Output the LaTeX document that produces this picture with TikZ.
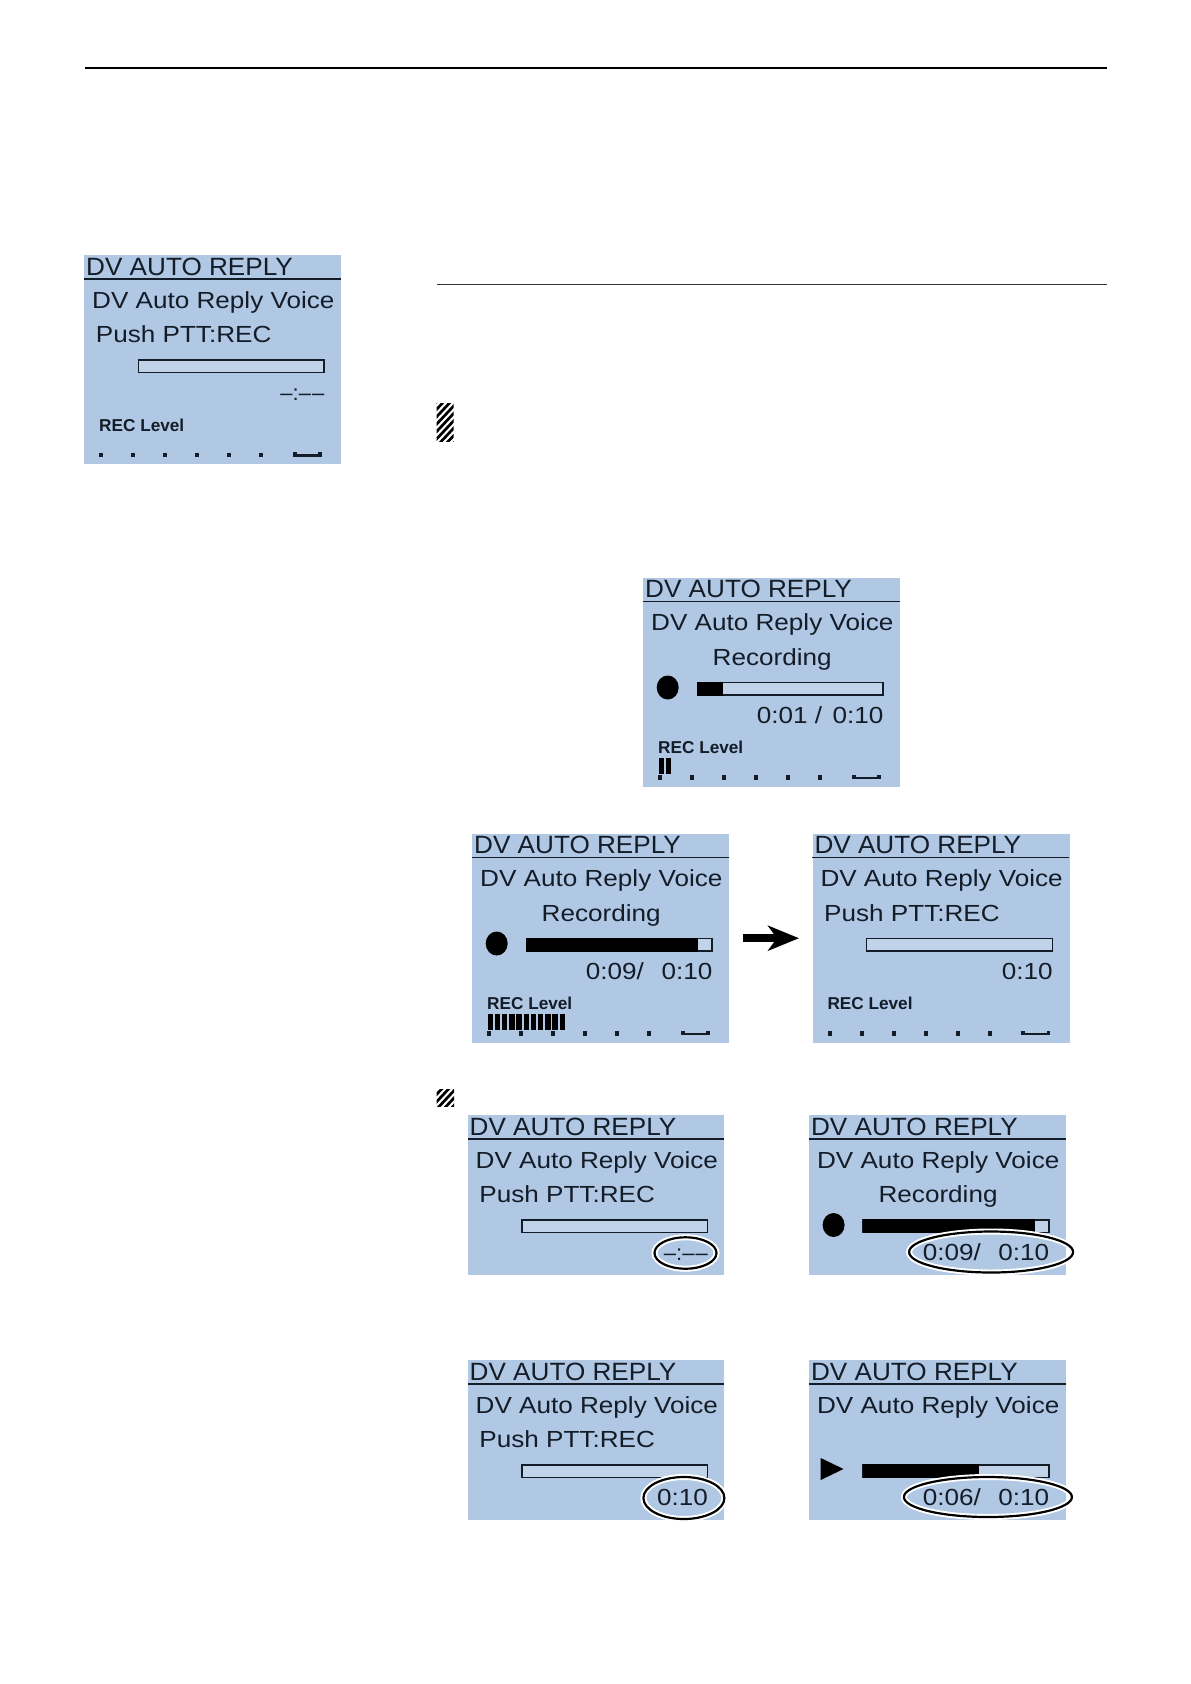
\documentclass[tikz,border=0pt]{standalone}
\usepackage{fontspec}
\setmainfont{Liberation Sans}
\newfontfamily\lcdfont[FakeStretch=1.12]{Liberation Sans}
\newfontfamily\lcdhead[FakeStretch=1.045]{Liberation Sans}
\usetikzlibrary{arrows.meta}
\definecolor{lcdbg}{HTML}{B0C8E4}
\definecolor{lcdink}{HTML}{141C28}
\tikzset{
  panel/.style={fill=lcdbg,draw=none,inner sep=0pt,anchor=north west},
  lcdtxt/.style={inner sep=0pt,text=lcdink,font=\lcdfont\fontsize{23.3}{25}\selectfont},
  dashtxt/.style={inner sep=0pt,text=lcdink,anchor=base east,font=\fontsize{22}{25}\selectfont},
  headtxt/.style={inner sep=0pt,text=lcdink,anchor=base west,font=\lcdhead\fontsize{25}{27}\selectfont},
  smalltxt/.style={inner sep=0pt,text=lcdink,anchor=base west,font=\fontsize{17.2}{18}\selectfont\bfseries},
  lcdrule/.style={draw=lcdink,line width=1.6pt},
  barframe/.style={draw=lcdink,line width=1.6pt,fill=lcdbg!80!white},
  inkfill/.style={fill=black,draw=none},
  pagerule/.style={draw=black,line width=1.4pt},
  thinrule/.style={draw=black!80,line width=0.9pt},
  bigarrow/.style={draw=black,line width=7.5pt,-{Stealth[length=31pt,width=25pt,inset=9pt]}},
  haloring/.style={draw=white,line width=6pt},
  blackring/.style={draw=black,line width=2.2pt},
  hatchline/.style={draw=black,line width=2.7pt}
}
\newcommand{\lcdtop}[3]{%
  \node[panel,minimum width=#3pt,minimum height=#2pt] (#1) at (0,0) {};
  \node[headtxt] (#1-title) at (2,20) {DV AUTO REPLY};
  \draw[lcdrule] (0,24) -- (#3,24);
  \node[lcdtxt,anchor=base west] (#1-l1) at (8,53) {DV Auto Reply Voice};
}
\newcommand{\lcdpush}[1]{\node[lcdtxt,anchor=base west] (#1-l2) at (11.7,87.5) {Push PTT:REC};}
\newcommand{\lcdrecording}[1]{%
  \node[lcdtxt,anchor=base west] (#1-l2) at (69.5,87.5) {Recording};
  \fill[black] (24.7,110) ellipse (11 and 12);
}
\newcommand{\lcdbar}[2]{%
  \draw[barframe] (54.3,104.8) rectangle (240,117.6);
  \ifdim #2pt>0pt \fill[inkfill] (54,104) rectangle (#2,118.4);\fi
}
\newcommand{\lcdtime}[2]{% left text, right text
  \node[lcdtxt,anchor=base west] (#1-left) at (113.7,145.5) {#2};
  \node[lcdtxt,anchor=base east] (#1-right) at (240.5,145.5) {0:10};
}
\newcommand{\lcdfoot}[1]{%
  \node[smalltxt] (#1-lvl) at (15,176) {REC Level};
  \foreach \dx in {17.3,49.3,81.3,113.3,145.3,177.3} {\fill[lcdink] (\dx-2.1,197.8) rectangle (\dx+2.1,202);}
  \fill[lcdink] (208.7,197) rectangle (212.5,201.8);
  \fill[lcdink] (234.2,197) rectangle (238,201.8);
  \fill[lcdink] (208.7,199.4) rectangle (238,201.8);
}
\newcommand{\lcdlevel}[1]{%
  \foreach \k in {1,...,#1} {\fill[inkfill] (15.5+7.2*\k-7.2,180.5) rectangle (20.9+7.2*\k-7.2,196.2);}
}
\newcommand{\lcddashes}{–:–\kern1pt{}–}
\begin{document}
\begin{tikzpicture}[x=1pt,y=-1pt]
\useasboundingbox (0,0) rectangle (1191,1684);
\fill[white] (0,0) rectangle (1191,1684);
\draw[pagerule] (85,68) -- (1106.5,68);
\draw[thinrule] (437,284.5) -- (1106.5,284.5);
% hatch marks
\begin{scope}
  \clip (436.5,403) rectangle (453.5,441);
  \foreach \k in {0,...,8} {\draw[hatchline] (430,409+7.4*\k) -- (460,409+7.4*\k-32);}
\end{scope}
\begin{scope}
  \clip (436.5,1089) rectangle (454,1106);
  \foreach \k in {0,...,5} {\draw[hatchline] (430,1094+7.4*\k) -- (460,1094+7.4*\k-32);}
\end{scope}
% panel A
\begin{scope}[shift={(84,255)}]
  \lcdtop{a}{209}{257}\lcdpush{a}\lcdbar{a}{0}
  \node[dashtxt] (a-time) at (240.5,145.5) {\lcddashes};
  \lcdfoot{a}
\end{scope}
% panel B
\begin{scope}[shift={(643,577.5)}]
  \lcdtop{b}{209}{257}\lcdrecording{b}\lcdbar{b}{79.7}
  \lcdtime{b}{0:01 /}\lcdfoot{b}\lcdlevel{2}
\end{scope}
% panel C
\begin{scope}[shift={(472,833.5)}]
  \lcdtop{c}{209}{257}\lcdrecording{c}\lcdbar{c}{226}
  \lcdtime{c}{0:09/}\lcdfoot{c}\lcdlevel{11}
\end{scope}
% panel D
\begin{scope}[shift={(812.3,833.5)}]
  \lcdtop{d}{209}{257}\lcdpush{d}\lcdbar{d}{0}
  \node[lcdtxt,anchor=base east] (d-time) at (240.5,145.5) {0:10};
  \lcdfoot{d}
\end{scope}
\draw[bigarrow] ([xshift=14pt]c.east) -- ([xshift=-13.3pt]d.west);
% panel E
\begin{scope}[shift={(467.5,1115)}]
  \lcdtop{e}{160}{256.5}\lcdpush{e}\lcdbar{e}{0}
  \node[dashtxt] (e-time) at (240.5,145.5) {\lcddashes};
  \draw[haloring] (218,138) ellipse (31 and 15.7);
  \draw[blackring] (218,138) ellipse (31 and 15.7);
\end{scope}
% panel F
\begin{scope}[shift={(808.9,1115)}]
  \lcdtop{f}{160}{257}\lcdrecording{f}\lcdbar{f}{226}
  \lcdtime{f}{0:09/}
  \draw[haloring] (182.2,137) ellipse (82 and 20.5);
  \draw[blackring] (182.2,137) ellipse (82 and 20.5);
\end{scope}
% panel G
\begin{scope}[shift={(467.5,1360)}]
  \lcdtop{g}{160}{256.5}\lcdpush{g}\lcdbar{g}{0}
  \node[lcdtxt,anchor=base east] (g-time) at (240.5,145.5) {0:10};
  \draw[haloring] (216.4,138) ellipse (40.5 and 21);
  \draw[blackring] (216.4,138) ellipse (40.5 and 21);
\end{scope}
% panel H
\begin{scope}[shift={(808.9,1360)}]
  \lcdtop{h}{160}{257}\lcdbar{h}{170}
  \fill[inkfill] (11.8,98) -- (34.6,109) -- (11.8,120) -- cycle;
  \lcdtime{h}{0:06/}
  \draw[haloring] (179,137) ellipse (84 and 20);
  \draw[blackring] (179,137) ellipse (84 and 20);
\end{scope}
\end{tikzpicture}
\end{document}
